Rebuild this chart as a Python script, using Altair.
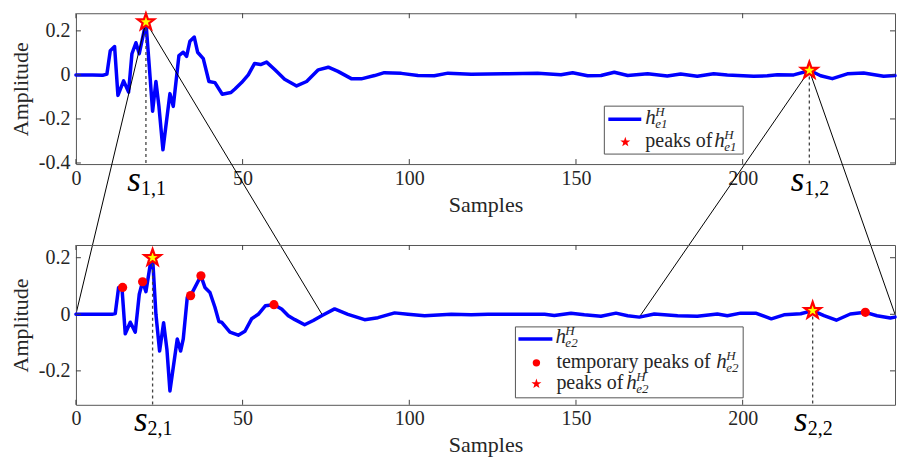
import math
import altair as alt
import pandas as pd

# ---------------- data ----------------
x1 = [0, 5, 8, 9.3, 10.3, 11.6, 12.6, 14.3, 15.8, 16.8, 18.0, 19.0, 21, 22, 23.0, 24.0, 24.9, 26.1,
      28.2, 29.2, 30.9, 32.2, 33.2, 34.2, 35.5, 36.5, 38.2, 39.9, 41.7, 43.9, 46.5, 47.7, 49.7, 51.7,
      53.6, 55.4, 57.2, 59.7, 62.6, 66.2, 69.2, 72.7, 75.7, 78.6, 82.6, 85.6, 89.6, 92.5, 97.6, 102.6,
      107.5, 111.6, 118.6, 128.5, 138.5, 145.5, 149.0, 153.5, 157.5, 161.5, 165.5, 171.5, 177.4, 181.4,
      186.4, 191.3, 195.4, 203.3, 207.4, 210.4, 215.3, 220.2, 223.4, 226.9, 231.4, 236.3, 242.3, 245.7]
y1 = [0, 0, -0.002, 0.004, 0.11, 0.129, -0.093, -0.027, -0.078, 0.096, 0.146, 0.096, 0.24, 0.04, -0.165,
      -0.03, -0.143, -0.34, -0.085, -0.143, 0.088, 0.103, 0.084, 0.153, 0.172, 0.103, 0.074, -0.03, -0.035,
      -0.088, -0.08, -0.064, -0.035, 0.0, 0.052, 0.047, 0.058, 0.023, -0.02, -0.05, -0.03, 0.023, 0.035,
      0.016, -0.017, -0.018, -0.003, 0.01, 0.007, -0.003, -0.004, 0.008, 0.003, 0.005, 0.007, 0.001, 0.01,
      -0.004, -0.003, 0.012, -0.003, 0.005, -0.005, 0.004, -0.006, 0.005, 0.0, -0.006, -0.004, 0.001, 0.0,
      0.02, -0.004, -0.017, 0.005, 0.009, -0.006, -0.003]

x2 = [0, 10.8, 11.8, 12.8, 13.8, 14.8, 16.3, 17.8, 19, 20, 21, 22.3, 23, 24, 25.1, 26.3, 27.3, 28.2, 30.4,
      31.4, 32.2, 33.4, 34.4, 35.7, 37.5, 38.7, 40.2, 41.7, 42.9, 43.7, 46.2, 48.7, 50.7, 52.7, 54.7, 56.8,
      59.4, 61.7, 63.7, 65.7, 68.6, 71.2, 73.7, 77.6, 81.6, 86.6, 90.6, 95.6, 99.6, 104.6, 112.6, 118.6,
      123.6, 133.6, 140.6, 143.5, 148.5, 152.5, 157.5, 162, 165.5, 169, 173.5, 180.5, 186.4, 192.4, 195.4,
      199.4, 203.9, 208.6, 212.4, 217.4, 221, 224.4, 228.1, 232.3, 236.8, 240.3, 244.3, 245.7]
y2 = [0, 0, 0.003, 0.095, 0.095, -0.069, -0.028, -0.063, 0.071, 0.115, 0.08, 0.176, 0.2, 0.0, -0.13, -0.03,
      -0.125, -0.271, -0.087, -0.13, -0.087, 0.06, 0.066, 0.095, 0.136, 0.095, 0.077, 0.025, -0.026, -0.028,
      -0.063, -0.074, -0.06, -0.016, 0.0, 0.03, 0.034, 0.019, -0.005, -0.019, -0.037, -0.022, -0.005, 0.019,
      0.0, -0.019, -0.012, 0.005, 0.0, -0.005, 0.0, -0.002, 0.0, 0.0, 0.0, -0.004, 0.004, -0.002, -0.007,
      0.004, -0.005, -0.01, 0.001, -0.005, -0.007, 0.001, -0.005, 0.004, 0.004, -0.016, -0.002, 0.002, 0.013,
      -0.005, -0.021, 0.001, 0.007, -0.005, -0.013, -0.01]

peak1_x = [21, 220]
peak1_y = [0.24, 0.02]
peak1_lab = ["1,1", "1,2"]
peak2_x = [23, 221]
peak2_y = [0.2, 0.013]
peak2_lab = ["2,1", "2,2"]
temp2_x = [14, 20, 34.4, 37.5, 59.4, 236.8]
temp2_y = [0.095, 0.115, 0.066, 0.136, 0.034, 0.007]

# zoom connectors: where each top peak's two lines land on the lower curve
conn_x = [[0, 74], [169, 245.7]]
conn_y = [[0.0, -0.004], [-0.01, 0.0]]

xticks = [0, 50, 100, 150, 200]
yticks1 = [0.2, 0, -0.2, -0.4]
yticks2 = [0.2, 0, -0.2]

# ---------------- layout / style ----------------
W = 820
H1, H2 = 151, 160
GAP = 81
XDOM = [0, 245.7]
YDOM1 = [-0.405, 0.28]
YDOM2 = [-0.32, 0.245]
FONT = "Liberation Serif, DejaVu Serif, serif"
TXT = "#262626"
AX = "#404040"
BLUE = "#0000ff"
RED = "#ff0000"
TICK = 5


def star_path(inner=0.40):
    pts = []
    for k in range(10):
        r = 1.0 if k % 2 == 0 else inner
        a = math.radians(-90 + 36 * k)
        pts.append(f"{r * math.cos(a):.4f},{r * math.sin(a):.4f}")
    return "M" + " L".join(pts) + " Z"


STAR = star_path()
one = pd.DataFrame({"k": [0]})
xs = alt.Scale(domain=XDOM, nice=False, zero=False)

AX_X = alt.Axis(orient="bottom", values=xticks, title="Samples", ticks=False, domain=False,
                grid=False, labelFlush=False, labelPadding=4, labelFont=FONT, labelFontSize=20,
                labelColor=TXT, titleFont=FONT, titleFontSize=22, titleFontWeight="normal",
                titleColor=TXT, titlePadding=6)


def y_axis(yt):
    return alt.Axis(orient="left", values=yt, labelExpr="'' + datum.value", title="Amplitude",
                    ticks=False, domain=False, grid=False, labelPadding=6, labelFont=FONT,
                    labelFontSize=20, labelColor=TXT, titleFont=FONT, titleFontSize=22,
                    titleFontWeight="normal", titleColor=TXT, titlePadding=6)


def txt(x, y, s, size=20, style="normal", align="left"):
    return alt.Chart(one).mark_text(text=s, font=FONT, fontSize=size, fontStyle=style, align=align,
                                    baseline="alphabetic", color=TXT).encode(
        x=alt.value(x), y=alt.value(y))


def hsym(x, y, sub):
    return [txt(x, y, "h", 21, "italic"), txt(x + 10, y - 8, "H", 13, "italic"),
            txt(x + 10, y + 4, sub, 13, "italic")]


def legend_box(x0, x1_, y0, y1_):
    return alt.Chart(one).mark_rect(fill="white", stroke="#555555", strokeWidth=1).encode(
        x=alt.value(x0), x2=alt.value(x1_), y=alt.value(y0), y2=alt.value(y1_))


def legend_line(x0, x1_, y):
    return alt.Chart(one).mark_rule(color=BLUE, strokeWidth=3.5).encode(
        x=alt.value(x0), x2=alt.value(x1_), y=alt.value(y))


def legend_star(x, y):
    return alt.Chart(one).mark_point(shape=STAR, filled=True, color=RED, size=110, opacity=1).encode(
        x=alt.value(x), y=alt.value(y))


def legend_dot(x, y):
    return alt.Chart(one).mark_circle(color=RED, size=55, opacity=1).encode(
        x=alt.value(x), y=alt.value(y))


def panel(xv, yv, ydom, yt, H, px, py, labs, temp=None, connectors=None, legend=None, s_off=(27, 31)):
    ys = alt.Scale(domain=ydom, nice=False, zero=False)
    ay = y_axis(yt)

    def X(f):
        return alt.X(f, scale=xs, axis=AX_X)

    def Y(f):
        return alt.Y(f, scale=ys, axis=ay)

    df = pd.DataFrame({"x": xv, "y": yv})
    xt = pd.DataFrame({"t": xticks})
    ytd = pd.DataFrame({"t": yt})
    pk = pd.DataFrame({"x": px, "y": py, "lab": labs})
    r = dict(color=AX, strokeWidth=1)
    layers = [
        alt.Chart(df).mark_line(color=BLUE, strokeWidth=3.5, strokeJoin="round",
                                strokeCap="round").encode(x=X("x:Q"), y=Y("y:Q")),
        # inward tick marks on all four sides (MATLAB box style)
        alt.Chart(xt).mark_rule(**r).encode(x=X("t:Q"), y=alt.value(H), y2=alt.value(H - TICK)),
        alt.Chart(xt).mark_rule(**r).encode(x=X("t:Q"), y=alt.value(0), y2=alt.value(TICK)),
        alt.Chart(ytd).mark_rule(**r).encode(y=Y("t:Q"), x=alt.value(0), x2=alt.value(TICK)),
        alt.Chart(ytd).mark_rule(**r).encode(y=Y("t:Q"), x=alt.value(W), x2=alt.value(W - TICK)),
        alt.Chart(pk).mark_rule(color="#444444", strokeWidth=1.3, strokeDash=[3, 3]).encode(
            x=X("x:Q"), y=Y("y:Q"), y2=alt.datum(ydom[0])),
    ]
    if connectors is not None:
        layers.append(alt.Chart(connectors).mark_rule(color="black", strokeWidth=1, clip=False).encode(
            x=X("x:Q"), y=Y("y:Q"), x2="x2:Q", y2="y2:Q"))
    if temp is not None:
        layers.append(alt.Chart(temp).mark_circle(color=RED, size=85, opacity=1).encode(
            x=X("x:Q"), y=Y("y:Q")))
    layers.append(alt.Chart(pk).mark_point(shape=STAR, filled=True, fill="#ffff00", stroke=RED,
                                           strokeWidth=2.2, size=300, opacity=1).encode(
        x=X("x:Q"), y=Y("y:Q")))
    layers.append(alt.Chart(pk).mark_text(text="s", font=FONT, fontSize=35, fontStyle="italic",
                                          align="right", baseline="alphabetic", dx=-5,
                                          color="black").encode(
        x=X("x:Q"), y=alt.value(H + s_off[0])))
    layers.append(alt.Chart(pk).mark_text(font=FONT, fontSize=20, align="left", baseline="alphabetic",
                                          dx=-5, color="black").encode(
        x=X("x:Q"), y=alt.value(H + s_off[1]), text="lab:N"))
    if legend is not None:
        layers.extend(legend)
    return alt.layer(*layers).properties(width=W, height=H)


def to_top_units(v2):
    y_abs = H1 + GAP + H2 * (YDOM2[1] - v2) / (YDOM2[1] - YDOM2[0])
    return YDOM1[1] - y_abs * (YDOM1[1] - YDOM1[0]) / H1


rows = []
for i in range(len(peak1_x)):
    for j in range(2):
        rows.append({"x": peak1_x[i], "y": peak1_y[i], "x2": conn_x[i][j],
                     "y2": to_top_units(conn_y[i][j])})
conn_df = pd.DataFrame(rows)

# legends (positions in panel pixels)
leg1 = [legend_box(529, 668, 93, 141), legend_line(533, 566, 106)] + hsym(570, 111, "e1") + \
       [legend_star(550, 129), txt(570, 134, "peaks of")] + hsym(639, 134, "e1")
leg2 = [legend_box(440, 668, 82, 153), legend_line(443, 477, 94)] + hsym(480, 98, "e2") + \
       [legend_dot(461, 118), txt(481, 123, "temporary peaks of")] + hsym(641, 123, "e2") + \
       [legend_star(461, 139), txt(481, 144, "peaks of")] + hsym(551, 144, "e2")

top = panel(x1, y1, YDOM1, yticks1, H1, peak1_x, peak1_y, peak1_lab, connectors=conn_df,
            legend=leg1, s_off=(27, 31))
bottom = panel(x2, y2, YDOM2, yticks2, H2, peak2_x, peak2_y, peak2_lab,
               temp=pd.DataFrame({"x": temp2_x, "y": temp2_y}), legend=leg2, s_off=(26, 30))

chart = alt.vconcat(top, bottom, spacing=GAP, bounds="flush").properties(
    padding={"left": 0, "top": 0, "right": 0, "bottom": 0}
).configure_view(stroke="#555555", strokeWidth=1)

chart.save("out.html", embed_options={"renderer": "svg", "actions": False})
